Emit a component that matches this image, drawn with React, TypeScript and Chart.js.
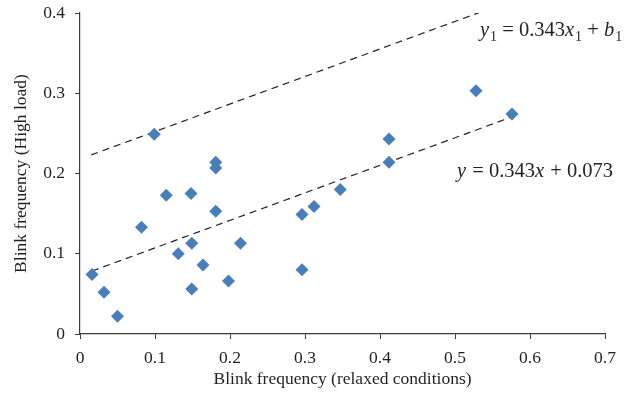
import React, { useEffect, useRef } from "react";
import { Chart, registerables } from "chart.js";

Chart.register(...registerables);

const relaxedX = [0.016, 0.032, 0.050, 0.082, 0.099, 0.115, 0.131, 0.148, 0.149, 0.149, 0.164, 0.181, 0.181, 0.181, 0.198, 0.214, 0.296, 0.296, 0.312, 0.347, 0.412, 0.412, 0.528, 0.576];
const highLoadY = [0.074, 0.052, 0.022, 0.133, 0.249, 0.173, 0.100, 0.175, 0.113, 0.056, 0.086, 0.153, 0.214, 0.207, 0.066, 0.113, 0.149, 0.080, 0.159, 0.180, 0.243, 0.214, 0.303, 0.274];

const slope = 0.343;
const intercept = 0.073;
const upperIntercept = 0.218;
const fitRange = [0.016, 0.577];
const upperRange = [0.015, 0.532];

const xTicks = [0, 0.1, 0.2, 0.3, 0.4, 0.5, 0.6, 0.7];
const yTicks = [0, 0.1, 0.2, 0.3, 0.4];

const xTitle = "Blink frequency (relaxed conditions)";
const yTitle = "Blink frequency (High load)";

const SERIF = "'Liberation Serif', 'DejaVu Serif', serif";

type Seg = { t: string; it?: boolean; sub?: boolean };
const eqUpper: Seg[] = [
  { t: "y", it: true }, { t: "1", sub: true }, { t: " = 0.343" }, { t: "x", it: true }, { t: "1", sub: true }, { t: " + " }, { t: "b", it: true }, { t: "1", sub: true },
];
const eqLower: Seg[] = [
  { t: "y", it: true }, { t: " = 0.343" }, { t: "x", it: true }, { t: " + 0.073" },
];
const eqUpperPos = [0.5333, 0.3716];
const eqLowerPos = [0.5027, 0.1954];

const eqPlugin = {
  id: "eqPlugin",
  afterDatasetsDraw(chart: any) {
    const ctx = chart.ctx;
    const xs = chart.scales.x;
    const ys = chart.scales.y;
    const drawEq = (segs: Seg[], pos: number[]) => {
      let x = xs.getPixelForValue(pos[0]);
      const y = ys.getPixelForValue(pos[1]);
      ctx.save();
      ctx.fillStyle = "#231f20";
      ctx.textBaseline = "alphabetic";
      ctx.textAlign = "left";
      for (const s of segs) {
        const size = s.sub ? 14 : 20.5;
        ctx.font = `${s.it ? "italic " : ""}${size}px ${SERIF}`;
        ctx.fillText(s.t, x, s.sub ? y + 5 : y);
        x += ctx.measureText(s.t).width + (s.it ? 1 : 0);
      }
      ctx.restore();
    };
    drawEq(eqUpper, eqUpperPos);
    drawEq(eqLower, eqLowerPos);
  },
};

export default function App() {
  const ref = useRef<HTMLCanvasElement>(null);
  useEffect(() => {
    if (!ref.current) return;
    const points = relaxedX.map((x, i) => ({ x, y: highLoadY[i] }));
    const fitLine = fitRange.map((x) => ({ x, y: slope * x + intercept }));
    const upperLine = upperRange.map((x) => ({ x, y: slope * x + upperIntercept }));
    const chart = new Chart(ref.current, {
      type: "scatter",
      data: {
        datasets: [
          {
            data: points,
            pointStyle: "rectRot",
            pointRadius: 6.5,
            backgroundColor: "#4a7ebb",
            borderColor: "#4a7ebb",
            borderWidth: 0,
          },
          {
            type: "line",
            data: fitLine,
            borderColor: "#222",
            borderWidth: 1.2,
            borderDash: [7, 5],
            pointRadius: 0,
            fill: false,
          },
          {
            type: "line",
            data: upperLine,
            borderColor: "#222",
            borderWidth: 1.2,
            borderDash: [7, 5],
            pointRadius: 0,
            fill: false,
          },
        ] as any,
      },
      options: {
        animation: false,
        responsive: false,
        maintainAspectRatio: false,
        layout: { padding: { top: 13, right: 24, left: 0, bottom: 0 } },
        plugins: { legend: { display: false }, tooltip: { enabled: false } },
        scales: {
          x: {
            type: "linear",
            min: 0,
            max: 0.7,
            afterBuildTicks: (s: any) => { s.ticks = xTicks.map((v) => ({ value: v })); },
            afterFit: (s: any) => { s.height = 70; s.paddingLeft = 0; s.paddingRight = 0; },
            grid: { drawOnChartArea: false, drawTicks: true, tickLength: 5, color: "#3a3a3a", lineWidth: 1 },
            border: { display: true, color: "#3a3a3a", width: 1.2 },
            ticks: {
              color: "#231f20",
              font: { family: SERIF, size: 17.5 },
              padding: 9,
              maxRotation: 0,
              callback: (v: any) => String(Number(v)),
            },
            title: {
              display: true,
              text: xTitle,
              color: "#231f20",
              font: { family: SERIF, size: 17.5 },
              padding: { top: 0, bottom: 14 },
            },
          },
          y: {
            type: "linear",
            min: 0,
            max: 0.4,
            afterBuildTicks: (s: any) => { s.ticks = yTicks.map((v) => ({ value: v })); },
            afterFit: (s: any) => { s.width = 80; s.paddingTop = 0; s.paddingBottom = 0; },
            grid: { drawOnChartArea: false, drawTicks: true, tickLength: 5, color: "#3a3a3a", lineWidth: 1 },
            border: { display: true, color: "#3a3a3a", width: 1.2 },
            ticks: {
              color: "#231f20",
              font: { family: SERIF, size: 17.5 },
              padding: 10,
              callback: (v: any) => String(Number(v)),
            },
            title: {
              display: true,
              text: yTitle,
              color: "#231f20",
              font: { family: SERIF, size: 17.5 },
              padding: { top: 11, bottom: 0 },
            },
          },
        },
      },
      plugins: [eqPlugin],
    });
    return () => chart.destroy();
  }, []);
  return (
    <div style={{ position: "fixed", left: 0, top: 0, width: 629, height: 404, background: "#fff" }}>
      <canvas ref={ref} width={629} height={404} style={{ width: 629, height: 404 }} />
    </div>
  );
}
